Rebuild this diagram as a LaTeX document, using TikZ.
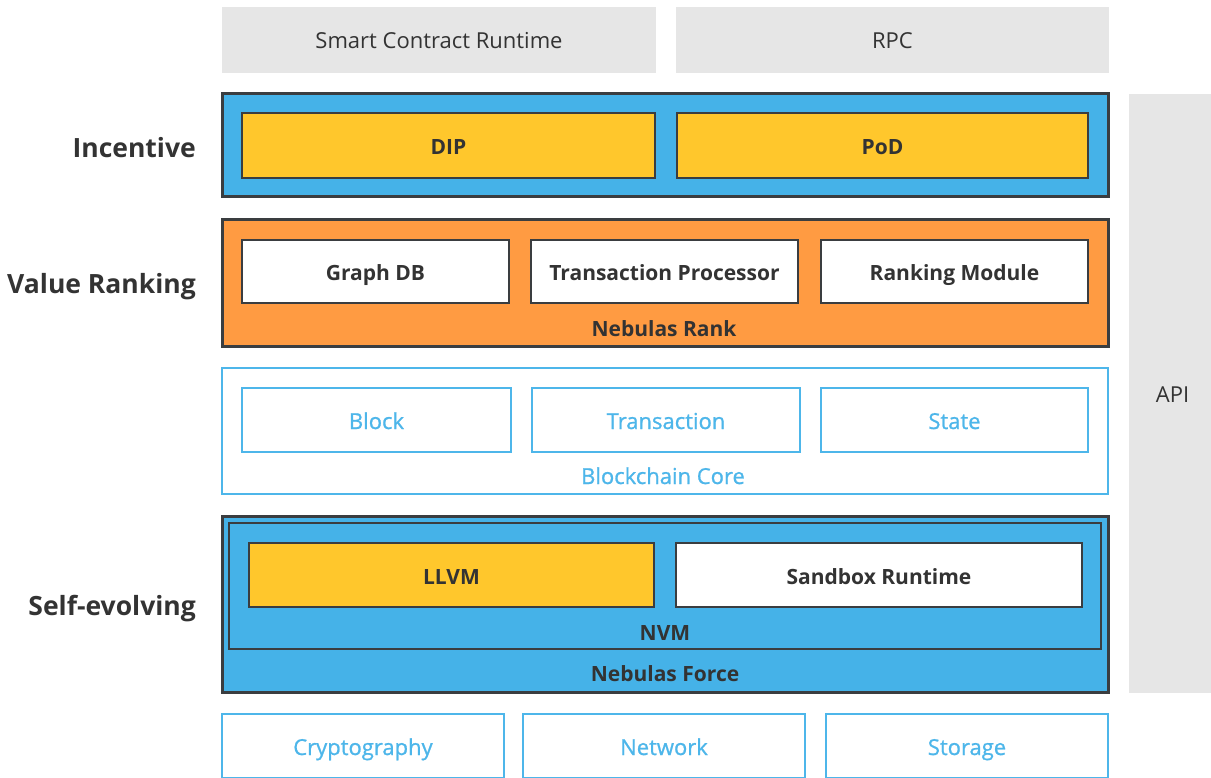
\documentclass[tikz,border=0pt]{standalone}
\usepackage{fontspec}
\setmainfont{Open Sans}
\newfontfamily\nassemi{Open Sans}[UprightFeatures={FakeBold=0.9}]
\usepackage{tikz}
\usetikzlibrary{positioning}
\usepackage{xcolor}
\definecolor{nasblue}{HTML}{45B2E8}
\definecolor{nasyellow}{HTML}{FFC72C}
\definecolor{nasorange}{HTML}{FF9B42}
\definecolor{nasdark}{HTML}{3A3D40}
\definecolor{nastext}{HTML}{333333}
\definecolor{nasline}{HTML}{4DB6EA}
\definecolor{nasgray}{HTML}{E6E6E6}

\begin{document}
\begin{tikzpicture}[x=1pt, y=-1pt,
    every node/.style = {rectangle, inner sep=0pt, text height=18pt, text depth=0pt,
      font=\fontsize{21}{25}\selectfont\bfseries, text=nastext},
    layer/.style = {draw=nasdark, line width=3pt, minimum width=886pt},
    ext/.style = {fill=nasgray, font=\fontsize{22}{26}\selectfont, minimum height=66pt},
    unit/.style = {draw=nasdark, line width=2.6pt, minimum height=64pt},
    core/.style = {draw=nasline, line width=2.6pt, fill=white, text=nasline, font=\fontsize{22}{26}\selectfont\nassemi},
    side/.style = {anchor=east, text height=19pt, font=\fontsize{26.5}{30}\selectfont\bfseries}
    ]
    \useasboundingbox (0,0) rectangle (1211,778);

    % top row
    \node[ext, minimum width=434pt] (scr) at (439,40) {Smart Contract Runtime};
    \node[ext, minimum width=433pt] (rpc) at (892.5,40) {RPC};
    \node[fill=nasgray, minimum width=82pt, minimum height=599pt, font=\fontsize{22}{26}\selectfont] (api) at (1170,393.5) {\hspace{5pt}API};

    % incentive
    \node[layer, fill=nasblue, minimum height=103pt] (inc) at (665,145.5) {};
    \node[unit, fill=nasyellow, minimum width=413pt, minimum height=65pt] (dip) at (448.5,145.5) {DIP};
    \node[unit, fill=nasyellow, minimum width=411pt, minimum height=65pt] (pod) at (882.5,145.5) {PoD};

    % value ranking
    \node[layer, fill=nasorange, minimum height=126pt] (rank) at (665,283) {};
    \node[unit, fill=white, minimum width=267pt, minimum height=63pt] (gdb) at (375.5,271.5) {Graph DB};
    \node[unit, fill=white, minimum width=267pt, minimum height=63pt] (txp) at (664.5,271.5) {Transaction Processor};
    \node[unit, fill=white, minimum width=267pt, minimum height=63pt] (rkm) at (954.5,271.5) {Ranking Module};
    \node (rankLbl) at (664,327) {Nebulas Rank};

    % blockchain core
    \node[core, minimum width=886pt, minimum height=126pt] (chain) at (665,431) {};
    \node[core, minimum width=269pt, minimum height=64pt] (blk) at (376.5,420) {Block};
    \node[core, minimum width=268pt, minimum height=64pt] (tx) at (666,420) {Transaction};
    \node[core, minimum width=267pt, minimum height=64pt] (st) at (954.5,420) {State};
    \node[text=nasline, font=\fontsize{22}{26}\selectfont\nassemi] (chainLbl) at (663,475) {Blockchain Core};

    % nebulas force
    \node[layer, fill=nasblue, minimum height=176pt] (force) at (665,604) {};
    \node[draw=nasdark, line width=2.6pt, minimum width=872pt, minimum height=126pt] (nvm) at (665,586) {};
    \node[unit, fill=nasyellow, minimum width=405pt] (llvm) at (451.5,575) {LLVM};
    \node[unit, fill=white, minimum width=406pt] (sbx) at (879,575) {Sandbox Runtime};
    \node (nvmLbl) at (665,631) {NVM};
    \node (forceLbl) at (665,672) {Nebulas Force};

    % bottom row
    \node[core, minimum width=282pt, minimum height=64pt] (cry) at (363,746) {Cryptography};
    \node[core, minimum width=282pt, minimum height=64pt] (net) at (664,746) {Network};
    \node[core, minimum width=282pt, minimum height=64pt] (sto) at (967,746) {Storage};

    % side labels
    \node[side] (incLbl) at (196,148) {Incentive};
    \node[side] (valLbl) at (196,284) {Value Ranking};
    \node[side] (evoLbl) at (196,606) {Self-evolving};
\end{tikzpicture}
\end{document}
